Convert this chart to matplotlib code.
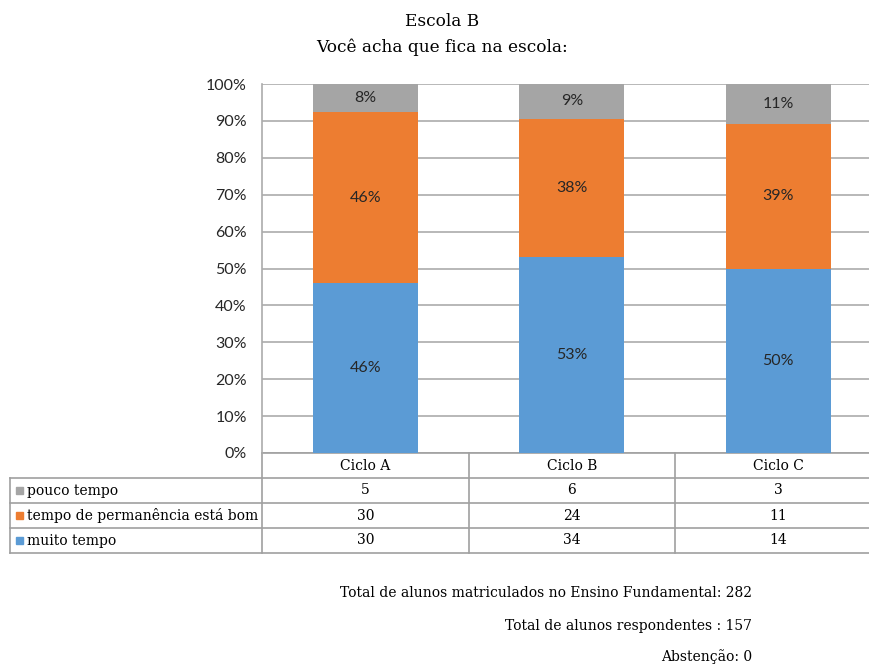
import matplotlib
matplotlib.use("Agg")
import matplotlib.pyplot as plt
import matplotlib.transforms as mtransforms
from matplotlib.patches import Rectangle
import numpy as np

# ---- data ----
categories = ["Ciclo A", "Ciclo B", "Ciclo C"]
series_names = ["pouco tempo", "tempo de permanência está bom", "muito tempo"]
pouco_tempo = [5, 6, 3]
tempo_bom = [30, 24, 11]
muito_tempo = [30, 34, 14]
colors = {"pouco tempo": "#A5A5A5",
          "tempo de permanência está bom": "#ED7D31",
          "muito tempo": "#5B9BD5"}
title_lines = ["Escola B", "Você acha que fica na escola:"]
footer_lines = ["Total de alunos matriculados no Ensino Fundamental: 282",
                "Total de alunos respondentes : 157",
                "Abstenção: 0"]
yticks = [0, 10, 20, 30, 40, 50, 60, 70, 80, 90, 100]

W, H = 869, 664
fig = plt.figure(figsize=(W / 100, H / 100), dpi=100)
serif = ["DejaVu Serif"]
sans = ["Lato", "DejaVu Sans"]
TFS = 10  # table / footer font size

def fx(px):
    return px / W

def fy(py):
    return 1 - py / H

ax_left, ax_right, ax_top, ax_bottom = 262, 881.5, 84, 453
ax = fig.add_axes([fx(ax_left), fy(ax_bottom), fx(ax_right - ax_left), (ax_bottom - ax_top) / H])

x = np.arange(len(categories))
counts = np.array([muito_tempo, tempo_bom, pouco_tempo], dtype=float)
totals = counts.sum(axis=0)
pct = counts / totals * 100
order = ["muito tempo", "tempo de permanência está bom", "pouco tempo"]
bottom = np.zeros(len(categories))
for name, vals in zip(order, pct):
    ax.bar(x, vals, bottom=bottom, width=0.51, color=colors[name], zorder=3)
    for xi, b, v in zip(x, bottom, vals):
        ax.text(xi, b + v / 2, f"{round(v):.0f}%", ha="center", va="center",
                fontsize=11.5, family=sans, color="#262626", zorder=4)
    bottom += vals

ax.set_xlim(-0.5, 2.5)
ax.set_ylim(0, 100)
ax.set_yticks(yticks)
ax.set_yticklabels([f"{t}%" for t in yticks], family=sans, fontsize=11.5, color="#262626")
ax.tick_params(axis="y", length=0, pad=11)
ax.set_xticks([])
ax.grid(axis="y", color="#ABABAB", linewidth=1.2, zorder=0)
for s in ["top", "right", "bottom"]:
    ax.spines[s].set_visible(False)
ax.spines["left"].set_color("#ABABAB")
ax.spines["left"].set_linewidth(1.2)

# ---- titles ----
fig.text(fx(442), fy(21), title_lines[0], ha="center", va="center", fontsize=12.2, family=serif)
fig.text(fx(442), fy(47), title_lines[1], ha="center", va="center", fontsize=12.2, family=serif)

# ---- data table ----
tr = mtransforms.blended_transform_factory(ax.transData, fig.transFigure)
line_kw = dict(color="#A0A0A0", linewidth=1.2, clip_on=False)
row_y = [453, 478, 503, 528, 553]
x_left_tab = -0.5 - (ax_left - 10) / ((ax_right - ax_left) / 3)
ax.plot([-0.5, 2.5], [fy(row_y[0])] * 2, transform=tr, **line_kw)
for ry in row_y[1:]:
    ax.plot([x_left_tab, 2.5], [fy(ry)] * 2, transform=tr, **line_kw)
ax.plot([x_left_tab] * 2, [fy(row_y[1]), fy(row_y[-1])], transform=tr, **line_kw)
for b in [-0.5, 0.5, 1.5]:
    ax.plot([b, b], [fy(row_y[0]), fy(row_y[-1])], transform=tr, **line_kw)

for xi, c in zip(x, categories):
    ax.text(xi, fy((row_y[0] + row_y[1]) / 2), c, transform=tr, ha="center", va="center",
            fontsize=TFS, family=serif)
rows = [("pouco tempo", pouco_tempo),
        ("tempo de permanência está bom", tempo_bom),
        ("muito tempo", muito_tempo)]
for i, (name, vals) in enumerate(rows):
    yc = (row_y[i + 1] + row_y[i + 2]) / 2
    fig.patches.append(Rectangle((fx(16), fy(yc + 3.5)), fx(7), 7 / H,
                                 transform=fig.transFigure, color=colors[name]))
    fig.text(fx(27), fy(yc), name, ha="left", va="center", fontsize=TFS, family=serif)
    for xi, v in zip(x, vals):
        ax.text(xi, fy(yc), str(v), transform=tr, ha="center", va="center",
                fontsize=TFS, family=serif)

# ---- footer ----
for ty, t in zip([593, 626, 657], footer_lines):
    fig.text(fx(752), fy(ty), t, ha="right", va="center", fontsize=TFS, family=serif)

fig.savefig("out.png", dpi=100)
